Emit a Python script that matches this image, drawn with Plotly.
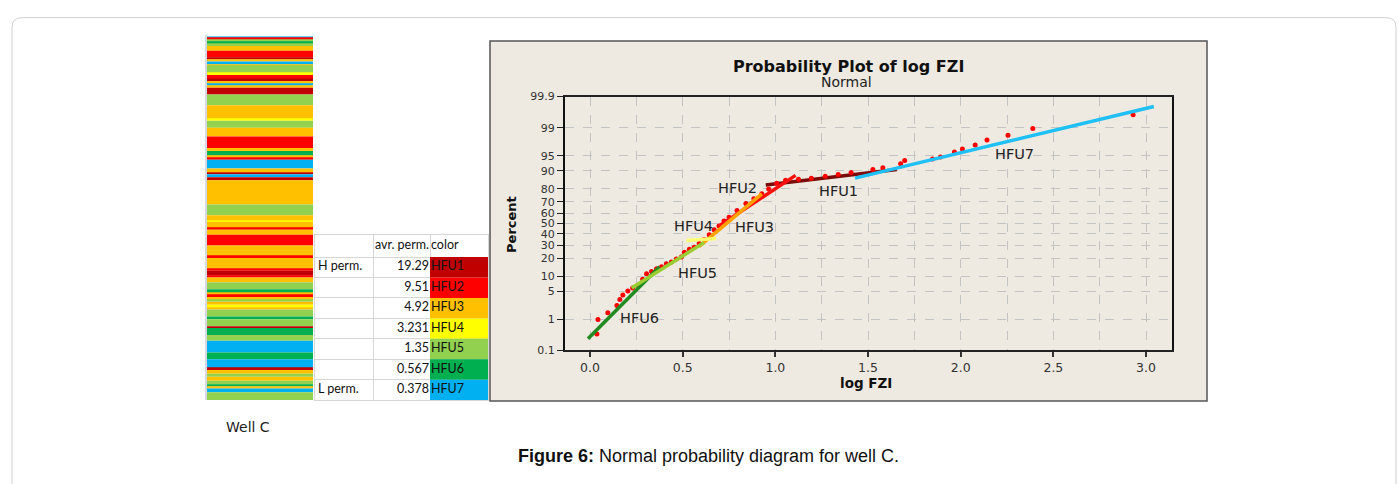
import numpy as np
import plotly.graph_objects as go
from statistics import NormalDist

W, H = 1398, 484


def px(x):
    return x / W


def py(y):
    return 1 - y / H


def z(p):
    return NormalDist().inv_cdf(p / 100.0)


# flow units and their colours
units = ["HFU1", "HFU2", "HFU3", "HFU4", "HFU5", "HFU6", "HFU7"]
unit_colors = ["#C00000", "#FF0000", "#FFC000", "#FFFF00", "#92D050", "#00B050", "#00B0F0"]
avr_perm = ["19.29", "9.51", "4.92", "3.231", "1.35", "0.567", "0.378"]
perm_note = ["H perm.", "", "", "", "", "", "L perm."]

# well C log, top to bottom
band_unit = ["HFU7", "HFU2", "HFU5", "HFU6", "HFU5", "HFU3", "HFU2", "HFU1", "HFU3", "HFU7",
             "HFU3", "HFU5", "HFU4", "HFU2", "HFU1", "HFU3", "HFU7", "HFU3", "HFU1", "HFU5",
             "HFU3", "HFU4", "HFU5", "HFU3", "HFU2", "HFU3", "HFU6", "HFU3", "HFU2", "HFU7",
             "HFU3", "HFU1", "HFU7", "HFU1", "HFU3", "HFU5", "HFU3", "HFU4", "HFU3", "HFU2",
             "HFU3", "HFU2", "HFU3", "HFU2", "HFU3", "HFU2", "HFU1", "HFU2", "HFU3", "HFU5",
             "HFU6", "HFU3", "HFU2", "HFU3", "HFU5", "HFU3", "HFU4", "HFU3", "HFU5", "HFU6",
             "HFU5", "HFU1", "HFU6", "HFU5", "HFU7", "HFU6", "HFU7", "HFU1", "HFU3", "HFU5",
             "HFU3", "HFU5", "HFU6", "HFU3", "HFU7", "HFU5"]
band_thick = [2, 2, 2, 2, 2, 5, 7, 2, 2, 3,
              1, 8, 2, 4, 2, 3, 2, 2, 7, 11,
              14, 2, 7, 9, 12, 3, 5, 2, 2, 9,
              4, 2, 3, 3, 25, 11, 6, 1, 6, 2,
              5, 11, 11, 2, 11, 2, 5, 2, 5, 7,
              4, 2, 2, 3, 2, 3, 3, 2, 7, 3,
              7, 2, 7, 6, 12, 7, 9, 2, 4, 3,
              4, 4, 2, 2, 4, 8]

# probability plot points (log FZI, percent)
log_fzi = [0.037, 0.043, 0.096, 0.145, 0.161, 0.177, 0.204, 0.230, 0.257, 0.284,
           0.305, 0.332, 0.359, 0.386, 0.412, 0.439, 0.466, 0.493, 0.509, 0.536,
           0.562, 0.589, 0.616, 0.643, 0.670, 0.696, 0.723, 0.750, 0.793, 0.841,
           0.884, 0.927, 0.964, 1.007, 1.055, 1.125, 1.194, 1.269, 1.339, 1.409,
           1.526, 1.580, 1.676, 1.698, 1.848, 1.891, 1.966, 2.009, 2.078, 2.142,
           2.255, 2.389, 2.930]
percent = [0.36, 0.98, 1.5, 2.3, 3.2, 4.1, 5.0, 5.8, 6.6, 8.7,
           11.1, 12.1, 13.6, 14.6, 16.3, 17.5, 19.4, 20.7, 24.2, 26.5,
           28.1, 31.3, 34.8, 39.3, 43.9, 47.6, 52.4, 56.1, 62.5, 68.6,
           72.7, 76.5, 80.0, 83.7, 85.4, 85.9, 86.5, 87.5, 88.4, 89.3,
           90.6, 91.3, 92.7, 93.7, 94.2, 94.7, 95.9, 96.5, 97.2, 97.9,
           98.4, 98.96, 99.59]

# fitted lines per unit
fit_unit = ["HFU1", "HFU2", "HFU3", "HFU6", "HFU5", "HFU4", "HFU7"]
fit_color = ["#7B0A0A", "#FF1010", "#FFA200", "#228B22", "#9ACD32", "#FFFF70", "#1EC0F5"]
fit_x0 = [0.948, 0.696, 0.589, -0.011, 0.225, 0.520, 1.430]
fit_x1 = [1.655, 1.109, 0.927, 0.375, 0.616, 0.680, 3.042]
fit_p0 = [82.5, 47.6, 28.9, 0.25, 5.8, 33.9, 86.5]
fit_p1 = [90.6, 87.9, 76.5, 14.6, 32.2, 35.7, 99.78]

# unit labels inside the plot
lbl_text = ["HFU2", "HFU1", "HFU4", "HFU3", "HFU5", "HFU6", "HFU7"]
lbl_x = [0.793, 1.339, 0.557, 0.889, 0.578, 0.268, 2.292]
lbl_p = [80.6, 78.6, 47.6, 46.7, 11.6, 1.05, 95.5]

y_ticks = [0.1, 1, 5, 10, 20, 30, 40, 50, 60, 70, 80, 90, 95, 99, 99.9]

color_of = dict(zip(units, unit_colors))

fig = go.Figure()

# well log strip
bases = np.concatenate([[0], np.cumsum(band_thick)[:-1]])
fig.add_trace(go.Bar(
    x=[0] * len(band_thick), y=band_thick, base=bases, width=1,
    marker=dict(color=[color_of[u] for u in band_unit], line=dict(width=0)),
    xaxis="x2", yaxis="y2", hoverinfo="skip"))

# table: columns are 58/57/58 units wide, rows are 1 unit, header 23/21
rows = list(range(len(units)))
row_mid = [r + 0.5 for r in rows]
head_mid = -23 / 21 / 2
tab_font = dict(family="Lato", size=12.5, color="#111")
fig.add_trace(go.Bar(
    x=[58] * len(units), y=row_mid, base=115, width=1, orientation="h",
    marker=dict(color=unit_colors, line=dict(width=0)),
    xaxis="x3", yaxis="y3", hoverinfo="skip"))
fig.add_trace(go.Scatter(
    x=[3] * len(units), y=row_mid, text=perm_note, mode="text",
    textposition="middle right", textfont=tab_font,
    xaxis="x3", yaxis="y3", hoverinfo="skip"))
fig.add_trace(go.Scatter(
    x=[114] * len(units) + [114], y=row_mid + [head_mid],
    text=avr_perm + ["avr. perm."], mode="text",
    textposition="middle left", textfont=tab_font,
    xaxis="x3", yaxis="y3", hoverinfo="skip"))
fig.add_trace(go.Scatter(
    x=[116] * len(units) + [116], y=row_mid + [head_mid],
    text=units + ["color"], mode="text",
    textposition="middle right", textfont=tab_font,
    xaxis="x3", yaxis="y3", hoverinfo="skip"))


# fitted lines (HFU1 under the points)
def add_fit(i):
    fig.add_trace(go.Scatter(
        x=[fit_x0[i], fit_x1[i]], y=[z(fit_p0[i]), z(fit_p1[i])], mode="lines",
        line=dict(color=fit_color[i], width=3.5), hoverinfo="skip"))


add_fit(0)
fig.add_trace(go.Scatter(
    x=log_fzi, y=[z(p) for p in percent], mode="markers",
    marker=dict(color="#FF0000", size=5), hoverinfo="skip"))
for i in range(1, len(fit_unit)):
    add_fit(i)

for t, xv, pv in zip(lbl_text, lbl_x, lbl_p):
    fig.add_annotation(x=xv, y=z(pv), text=t, showarrow=False,
                       font=dict(family="DejaVu Sans", size=14.5, color="#222"))

grid_color = "#C4C4C4"
tab_line = "#D6D6D6"
fig.update_layout(
    width=W, height=H, margin=dict(l=0, r=0, t=0, b=0),
    paper_bgcolor="white", plot_bgcolor="white", showlegend=False,
    barmode="overlay",
    xaxis=dict(domain=[px(565), px(1172)], range=[-0.135, 3.14],
               tickvals=[0, 0.5, 1, 1.5, 2, 2.5, 3],
               ticktext=["0.0", "0.5", "1.0", "1.5", "2.0", "2.5", "3.0"],
               ticks="outside", ticklen=5, tickwidth=2, tickcolor="#333",
               tickfont=dict(family="DejaVu Sans", size=12.5, color="#333"),
               showgrid=True, gridcolor=grid_color, griddash="dash",
               minor=dict(dtick=0.25, tick0=0, showgrid=True, gridcolor=grid_color,
                          griddash="dash"),
               showline=True, linecolor="#222", linewidth=1.5, mirror=True,
               zeroline=False, anchor="y"),
    yaxis=dict(domain=[py(354), py(93)], range=[z(0.1), z(99.9)],
               tickvals=[z(p) for p in y_ticks], ticktext=[f"{p:g}" for p in y_ticks],
               ticks="outside", ticklen=6, tickcolor="#222",
               tickfont=dict(family="DejaVu Sans", size=11, color="#333"),
               showgrid=True, gridcolor=grid_color, griddash="dash",
               showline=True, linecolor="#111", linewidth=2, mirror=True,
               zeroline=False, anchor="x"),
    xaxis2=dict(domain=[px(207), px(313)], range=[-0.5, 0.5], visible=False,
                anchor="y2"),
    yaxis2=dict(domain=[py(405), py(31)], range=[sum(band_thick), 0], visible=False,
                anchor="x2"),
    xaxis3=dict(domain=[px(315), px(488)], range=[0, 173], anchor="y3",
                tickvals=[58, 115, 173], showticklabels=False, ticks="",
                showgrid=True, gridcolor=tab_line, zeroline=False,
                showline=True, linecolor=tab_line, mirror=True),
    yaxis3=dict(domain=[py(405), py(235)], range=[7, -23 / 21], anchor="x3",
                tickvals=rows, showticklabels=False, ticks="",
                showgrid=True, gridcolor=tab_line, zeroline=False,
                showline=True, linecolor=tab_line, mirror=True),
)

shapes = [
    # card outline
    dict(type="path", xref="paper", yref="paper", layer="below",
         path=f"M {px(12)},{py(500)} L {px(12)},{py(22)} Q {px(12)},{py(12)} {px(22)},{py(12)} "
              f"L {px(1386)},{py(12)} Q {px(1396)},{py(12)} {px(1396)},{py(22)} L {px(1396)},{py(500)}",
         line=dict(color="#D0D0D0", width=1)),
    # minitab panel
    dict(type="rect", xref="paper", yref="paper", layer="below",
         x0=px(490), x1=px(1207), y0=py(406), y1=py(36),
         fillcolor="#EEEAE1", line=dict(color="#555", width=1.5)),
    # strip edge
    dict(type="line", xref="paper", yref="paper",
         x0=px(206), x1=px(206), y0=py(405), y1=py(30),
         line=dict(color="#C8CDD8", width=1.5)),
]
fig.update_layout(shapes=shapes)


def paper_text(x, y, text, size, family="DejaVu Sans", color="#111", angle=0):
    fig.add_annotation(xref="paper", yref="paper", x=px(x), y=py(y), text=text,
                       showarrow=False, xanchor="center", yanchor="middle",
                       textangle=angle, font=dict(family=family, size=size, color=color))


paper_text(848, 62, "<b>Probability Plot of log FZI</b>", 16)
paper_text(846, 78, "Normal", 14, color="#222")
paper_text(866, 387, "<b>log FZI</b>", 13.5)
paper_text(512, 225, "<b>Percent</b>", 13, angle=-90)
paper_text(248, 433, "Well C", 14, color="#222")
paper_text(708, 462, "<b>Figure 6:</b> Normal probability diagram for well C.", 18,
           family="Liberation Sans")

fig.write_html("out.html", config={"displayModeBar": False},
               post_script="document.body.style.margin='0';")
